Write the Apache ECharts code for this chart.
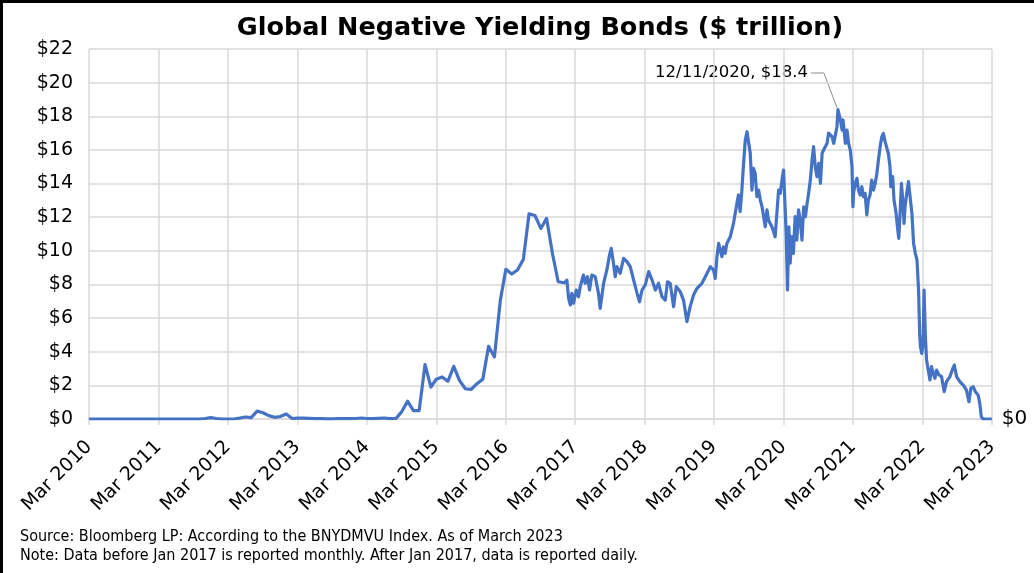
<!DOCTYPE html>
<html>
<head>
<meta charset="utf-8">
<script src="https://cdn.jsdelivr.net/npm/echarts@6/dist/echarts.min.js"></script>
<style>
  html, body { margin: 0; padding: 0; background: #fff; }
  #chart { width: 1034px; height: 573px; }
</style>
</head>
<body>
<div id="chart"></div>
<script>
// Monthly readings, March 2010 through December 2016 ($ trillion)
const monthlyStart = [2010, 3];
const monthlyValues = [
  0, 0, 0, 0, 0, 0, 0, 0, 0, 0, 0, 0, 0, 0, 0, 0, 0, 0, 0, 0,
  0.03, 0.08, 0.03, 0, 0, 0, 0.05, 0.12, 0.08, 0.47, 0.37, 0.2, 0.1, 0.15, 0.3, 0.03,
  0.05, 0.05, 0.04, 0.02, 0.02, 0.01, 0.01, 0.02, 0.02, 0.02, 0.03, 0.06, 0.03, 0.02,
  0.04, 0.06, 0.02, 0.03, 0.44, 1.06, 0.5, 0.5, 3.23, 1.9, 2.37, 2.5, 2.24, 3.13,
  2.3, 1.8, 1.76, 2.1, 2.37, 4.32, 3.69, 7.07, 8.9, 8.62, 8.86, 9.49, 12.2, 12.1,
  11.33, 11.93, 9.84, 8.16
];

// Daily readings from January 2017 ($ trillion)
const dailyDates = [
  '2017-01-03','2017-01-16','2017-01-25','2017-02-03','2017-02-11','2017-02-20','2017-03-06','2017-03-18',
  '2017-03-27','2017-04-13','2017-04-22','2017-05-04','2017-05-15','2017-05-27','2017-06-14','2017-07-01',
  '2017-07-10','2017-07-28','2017-08-14','2017-08-28','2017-09-06','2017-09-18','2017-09-27','2017-10-06',
  '2017-10-23','2017-11-10','2017-11-28','2017-12-15','2018-01-02','2018-01-20','2018-02-02','2018-02-15',
  '2018-03-04','2018-03-22','2018-04-09','2018-04-26','2018-05-13','2018-05-31','2018-06-17','2018-06-29',
  '2018-07-13','2018-07-31','2018-08-14','2018-09-04','2018-09-21','2018-10-09','2018-10-26','2018-11-13',
  '2018-12-01','2018-12-27','2019-01-23','2019-02-09','2019-02-26','2019-03-07','2019-03-16','2019-03-25',
  '2019-04-02','2019-04-11','2019-04-19','2019-04-28','2019-05-07','2019-05-25','2019-06-11','2019-06-20',
  '2019-06-29','2019-07-07','2019-07-16','2019-07-25','2019-08-03','2019-08-12','2019-08-21','2019-08-29',
  '2019-09-07','2019-09-16','2019-09-24','2019-10-03','2019-10-12','2019-10-21','2019-10-30','2019-11-08',
  '2019-11-16','2019-11-25','2019-12-04','2019-12-12','2019-12-21','2019-12-30','2020-01-08','2020-01-16',
  '2020-01-25','2020-02-03','2020-02-12','2020-02-21','2020-02-29','2020-03-09','2020-03-14','2020-03-21',
  '2020-03-28','2020-04-04','2020-04-13','2020-04-21','2020-04-30','2020-05-09','2020-05-18','2020-05-27',
  '2020-06-05','2020-06-14','2020-06-23','2020-07-02','2020-07-10','2020-07-19','2020-07-28','2020-08-05',
  '2020-08-14','2020-08-23','2020-09-01','2020-09-10','2020-09-19','2020-09-27','2020-10-15','2020-10-23',
  '2020-11-10','2020-11-19','2020-12-06','2020-12-11','2020-12-24','2021-01-02','2021-01-07','2021-01-14',
  '2021-01-19','2021-01-28','2021-02-05','2021-02-14','2021-02-23','2021-02-28','2021-03-03','2021-03-12',
  '2021-03-21','2021-03-29','2021-04-07','2021-04-16','2021-04-24','2021-05-03','2021-05-12','2021-05-20',
  '2021-05-29','2021-06-07','2021-06-16','2021-06-25','2021-07-04','2021-07-12','2021-07-21','2021-07-30',
  '2021-08-07','2021-08-16','2021-08-25','2021-09-02','2021-09-11','2021-09-15','2021-09-25','2021-10-02',
  '2021-10-13','2021-10-20','2021-10-27','2021-11-03','2021-11-10','2021-11-17','2021-11-24','2021-11-29',
  '2021-12-08','2021-12-17','2021-12-26','2022-01-04','2022-01-13','2022-01-22','2022-01-31','2022-02-08',
  '2022-02-14','2022-02-18','2022-02-25','2022-03-04','2022-03-09','2022-03-16','2022-03-22','2022-03-31',
  '2022-04-09','2022-04-17','2022-04-26','2022-05-05','2022-05-14','2022-05-26','2022-06-09','2022-06-23',
  '2022-07-05','2022-07-14','2022-07-23','2022-08-04','2022-08-15','2022-08-27','2022-09-13','2022-10-01',
  '2022-10-18','2022-10-31','2022-11-10','2022-11-22','2022-12-04','2022-12-18','2022-12-27','2023-01-04',
  '2023-01-13','2023-02-28'
];
const dailyValues = [
  8.1, 8.26, 7.17, 6.78, 7.47, 6.88, 7.67, 7.27,
  7.87, 8.56, 8.07, 8.46, 7.67, 8.56, 8.46, 7.47,
  6.58, 8.07, 8.86, 9.75, 10.15, 9.25, 8.46, 9.06,
  8.66, 9.55, 9.35, 9.06, 8.26, 7.47, 6.97, 7.67,
  7.97, 8.76, 8.26, 7.67, 8.07, 7.27, 7.07, 8.16,
  8.07, 6.68, 7.87, 7.57, 7.07, 5.79, 6.68, 7.37,
  7.77, 8.07, 8.66, 9.06, 8.86, 8.36, 9.65, 10.44,
  10.05, 9.65, 10.24, 9.85, 10.44, 10.84, 11.63, 12.23,
  12.82, 13.32, 12.33, 13.61, 15.2, 16.59, 17.08, 16.98,
  15.8, 13.61, 14.9, 14.61, 13.22, 13.61, 13.02, 12.62,
  12.72, 11.43, 12.43, 11.83, 11.63, 11.43, 11.14, 10.84,
  12.23, 13.61, 13.42, 14.21, 14.8, 14.9, 11.04, 7.67,
  11.43, 9.26, 10.84, 9.85, 12.03, 10.64, 12.43, 11.83,
  10.64, 12.62, 12.03, 12.82, 13.42, 14.21, 15.4, 16.19,
  15.0, 14.41, 15.2, 14.01, 15.8, 16.0, 16.39, 17.0,
  16.79, 16.39, 17.38, 18.4, 17.78, 17.18, 17.78, 16.98,
  16.39, 17.18, 16.39, 15.99, 15.0, 12.62, 13.42, 14.01,
  14.31, 13.61, 13.32, 13.81, 13.22, 13.42, 12.13, 13.02,
  13.32, 14.21, 13.61, 14.01, 14.61, 15.4, 16.19, 16.79,
  16.98, 16.49, 16.59, 15.8, 15.0, 13.81, 14.41, 13.02,
  12.23, 11.43, 10.74, 12.23, 14.01, 13.02, 11.63, 12.62,
  13.42, 14.11, 14.01, 12.23, 10.44, 9.85, 9.45, 7.67,
  5.09, 4.3, 3.9, 4.5, 7.67, 4.89, 3.51, 2.91,
  2.32, 3.11, 2.72, 2.42, 2.91, 2.62, 2.52, 1.62,
  2.22, 2.12, 2.52, 2.91, 3.21, 2.52, 2.22, 2.02,
  1.72, 1.03, 1.82, 1.92, 1.62, 1.43, 0.93, 0.14,
  0, 0
];

const peakDate = '2020-12-11';
const peakLabel = '12/11/2020';
const peakValue = 18.4;

const axisStartYear = 2010;
const yTickLabels = ['$0','$2','$4','$6','$8','$10','$12','$14','$16','$18','$20','$22'];

// Horizontal position: years elapsed since 1 March 2010
const ORIGIN = Date.UTC(2010, 2, 1);
const YEAR_MS = 365.25 * 86400000;
function yearsSinceOrigin(y, m, d) {
  return (Date.UTC(y, m - 1, d) - ORIGIN) / YEAR_MS;
}
function parseDate(s) {
  const p = s.split('-').map(Number);
  return yearsSinceOrigin(p[0], p[1], p[2]);
}

const seriesData = [];
monthlyValues.forEach((v, i) => {
  const m0 = monthlyStart[1] - 1 + i;
  const y = monthlyStart[0] + Math.floor(m0 / 12);
  const m = (m0 % 12) + 1;
  seriesData.push([yearsSinceOrigin(y, m, 1), v]);
});
dailyDates.forEach((d, i) => seriesData.push([parseDate(d), dailyValues[i]]));

const FONT = '"DejaVu Sans", Verdana, sans-serif';
const COND_FONT = '"DejaVu Sans Condensed", "DejaVu Sans", sans-serif';
const chart = echarts.init(document.getElementById('chart'), null, { renderer: 'canvas' });

chart.setOption({
  animation: false,
  backgroundColor: '#ffffff',
  grid: { left: 89, right: 42, top: 49, bottom: 154, containLabel: false, outerBoundsMode: 'none' },
  xAxis: {
    type: 'value',
    min: 0, max: 13, interval: 1,
    axisLine: { show: true, lineStyle: { color: '#d9d9d9', width: 1.5 } },
    axisTick: { show: true, length: 6, lineStyle: { color: '#d9d9d9', width: 1.5 } },
    splitLine: { show: true, lineStyle: { color: '#d9d9d9', width: 1.5 } },
    axisLabel: {
      rotate: 45, margin: 25, fontFamily: FONT, fontSize: 19, color: '#000',
      formatter: v => 'Mar ' + (axisStartYear + Math.round(v))
    }
  },
  yAxis: {
    type: 'value',
    min: 0, max: 22, interval: 2,
    axisLine: { show: false },
    axisTick: { show: false },
    splitLine: { show: true, lineStyle: { color: '#d9d9d9', width: 1.5 } },
    axisLabel: {
      margin: 16, fontFamily: FONT, fontSize: 19, color: '#000',
      formatter: v => yTickLabels[Math.round(v / 2)]
    }
  },
  series: [{
    type: 'line',
    data: seriesData,
    showSymbol: false,
    symbol: 'none',
    sampling: null,
    lineStyle: { color: '#4472C4', width: 3.2, join: 'round' },
    endLabel: {
      show: true, distance: 10, fontFamily: FONT, fontSize: 20, color: '#000',
      formatter: p => '$' + p.value[1]
    },
    z: 3
  }],
  graphic: [
    { type: 'text', id: 'title', x: 540, y: 28,
      style: { text: 'Global Negative Yielding Bonds ($ trillion)', fontFamily: FONT, fontWeight: 'bold',
               fontSize: 25.5, fill: '#000', textAlign: 'center', textVerticalAlign: 'middle' } },
    { type: 'text', id: 'src', x: 20, y: 537,
      style: { text: 'Source: Bloomberg LP: According to the BNYDMVU Index. As of March 2023',
               fontFamily: COND_FONT, fontSize: 16, fill: '#000', textVerticalAlign: 'middle' } },
    { type: 'text', id: 'note', x: 20, y: 556,
      style: { text: 'Note: Data before Jan 2017 is reported monthly. After Jan 2017, data is reported daily.',
               fontFamily: COND_FONT, fontSize: 16, fill: '#000', textVerticalAlign: 'middle' } },
    { type: 'polyline', id: 'frame', silent: true,
      shape: { points: [[1.5, 573], [1.5, 1.5], [1034, 1.5]] },
      style: { stroke: '#000', lineWidth: 3, fill: null } }
  ]
});

// Callout for the series high, anchored to its data point
const peak = chart.convertToPixel({ gridIndex: 0 }, [parseDate(peakDate), peakValue]);
chart.setOption({
  graphic: [
    { type: 'polyline', id: 'leader', silent: true,
      shape: { points: [[peak[0] - 27, 73], [peak[0] - 14, 73], [peak[0] - 1, peak[1] - 2]] },
      style: { stroke: '#8c8c8c', lineWidth: 1, fill: null } },
    { type: 'text', id: 'callout', x: peak[0] - 30, y: 73,
      style: { text: peakLabel + ', $' + peakValue, fontFamily: FONT, fontSize: 16.5, fill: '#000',
               textAlign: 'right', textVerticalAlign: 'middle' } }
  ]
});
</script>
</body>
</html>
